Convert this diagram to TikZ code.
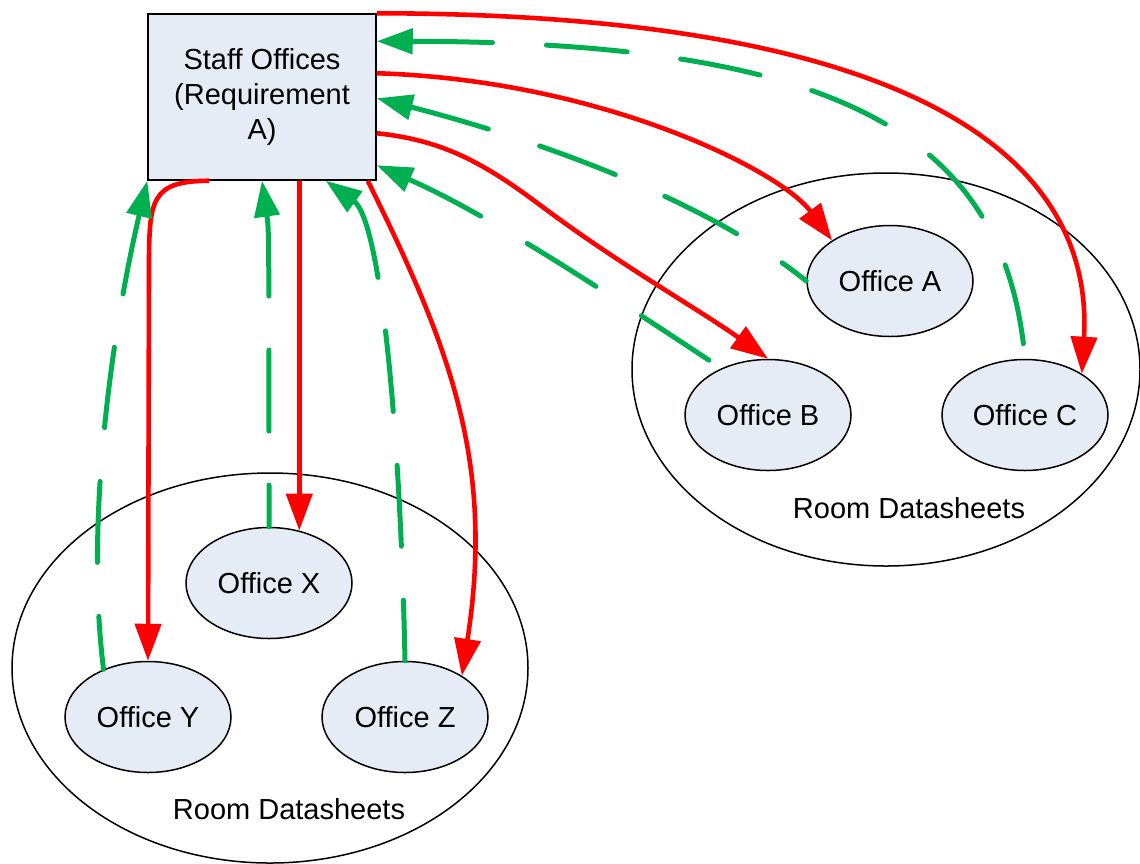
\documentclass[tikz,border=0pt]{standalone}
\usepackage{fontspec}
\setmainfont{Liberation Sans}
\usetikzlibrary{arrows.meta,shapes.geometric,calc}
\definecolor{nodefill}{RGB}{230,236,246}
\definecolor{flowred}{RGB}{255,0,0}
\definecolor{flowgreen}{RGB}{0,176,80}

\begin{document}
\begin{tikzpicture}[x=1pt,y=-1pt,
  lbl/.style={font=\fontsize{29}{35}\selectfont},
  staffbox/.style={draw=black, line width=1.5pt, fill=nodefill, minimum width=228pt,
    minimum height=166pt, inner sep=0pt, align=center, lbl},
  office/.style={ellipse, draw=black, line width=1.5pt, fill=nodefill,
    minimum width=166pt, minimum height=111pt, inner sep=0pt, lbl},
  cluster/.style={ellipse, draw=black, line width=1.5pt, inner sep=0pt},
  grouplabel/.style={lbl, inner sep=0pt},
  req/.style={draw=flowred, line width=4.6pt, -{Triangle[length=37pt,width=26pt]}},
  ret/.style={draw=flowgreen, line width=5pt, line cap=round,
    dash pattern=on 81pt off 54pt, {Triangle[length=36pt,width=25pt]}-},
]
\useasboundingbox (0,0) rectangle (1140,863);

% room datasheet groups
\node[cluster, minimum width=508pt, minimum height=393pt] (groupR) at (886,369.5) {};
\node[cluster, minimum width=516pt, minimum height=390pt] (groupL) at (270,668) {};
\node[grouplabel] (labelR) at (909,508) {Room Datasheets};
\node[grouplabel] (labelL) at (289,809) {Room Datasheets};

% requirement and offices
\node[staffbox] (box) at (262,97) {Staff Offices\\(Requirement\\A)};
\node[office] (A) at (890,281) {Office A};
\node[office] (B) at (768,415) {Office B};
\node[office] (C) at (1025,415) {Office C};
\node[office] (X) at (269,583) {Office X};
\node[office] (Y) at (148,717) {Office Y};
\node[office] (Z) at (405,717) {Office Z};

% requirement pushed to each office
\draw[req] (box.north east) .. controls (900,14) and (1095,150) .. (C.36);
\draw[req] ([yshift=-60pt]box.north east) .. controls (600,80) and (780,170) .. (A.145);
\draw[req] ([yshift=-120pt]box.north east) .. controls (440,140) and (480,160) .. (540,205)
  .. controls (620,265) and (700,310) .. (B.north);
\draw[req] (X.60 |- box.south) -- (X.60);
\draw[req] ([xshift=62pt]box.south west) .. controls (150,181) and (149,200) .. (149,270) -- (Y.north);
\draw[req] ([xshift=-9pt]box.south east) .. controls (450,347) and (495,463) .. (Z.36);

% offices reporting back
\draw[ret] ([yshift=-28pt]box.north east) .. controls (850,42) and (1005,140) .. (C.north);
\draw[ret] ([yshift=-85pt]box.north east) .. controls (520,135) and (700,195) .. (A.west);
\draw[ret] ([yshift=-152pt]box.north east) .. controls (490,215) and (610,295) .. (B.135);
\draw[ret] (box.south) .. controls (269,230) .. (X.north);
\draw[ret] (box.south west) .. controls (112,331) and (85,522) .. (Y.133);
\draw[ret] ([xshift=-51pt]box.south east) .. controls (380,220) and (400,420) .. (Z.north);
\end{tikzpicture}
\end{document}
